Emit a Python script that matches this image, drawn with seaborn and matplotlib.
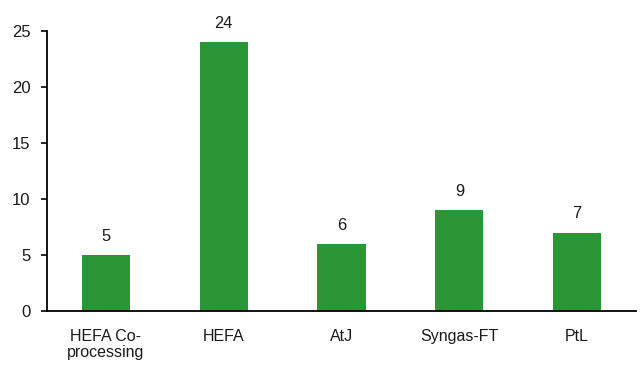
import matplotlib
matplotlib.use("Agg")
import matplotlib.pyplot as plt
import seaborn as sns
import pandas as pd

categories = ["HEFA Co-\nprocessing", "HEFA", "AtJ", "Syngas-FT", "PtL"]
values = [5, 24, 6, 9, 7]

sns.set_theme(style="white")
plt.rcParams["font.family"] = ["Liberation Sans", "DejaVu Sans"]

df = pd.DataFrame({"pathway": categories, "count": values})

fig = plt.figure(figsize=(6.44, 3.67), dpi=100)
ax = fig.add_axes([0.073, 0.1526, 0.9146, 0.763])

sns.barplot(data=df, x="pathway", y="count", color="#2a9635", saturation=1,
            width=0.41, linewidth=0, ax=ax)

for i, v in enumerate(values):
    ax.annotate(f"{v}", xy=(i, v), xytext=(0, 13.5), textcoords="offset points",
                ha="center", va="center", fontsize=11.8, color="#1a1a1a",
                annotation_clip=False)

ax.set_ylim(0, 25)
ax.set_yticks([0, 5, 10, 15, 20, 25])
ax.set_xlim(-0.5, 4.5)
ax.set_xlabel("")
ax.set_ylabel("")
for s in ["top", "right"]:
    ax.spines[s].set_visible(False)
for s in ["left", "bottom"]:
    ax.spines[s].set_color("black")
    ax.spines[s].set_linewidth(1.3)
ax.tick_params(axis="y", left=True, length=4, width=1.2, color="black",
               labelsize=12, labelcolor="#1a1a1a", pad=8)
ax.tick_params(axis="x", bottom=False, labelsize=11.5, labelcolor="#1a1a1a", pad=7)
for lbl in ax.get_xticklabels():
    lbl.set_linespacing(1.1)

fig.savefig("out.png", dpi=100)
